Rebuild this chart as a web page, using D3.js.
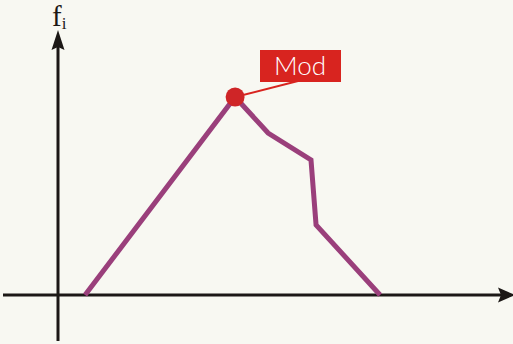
<!DOCTYPE html>
<html>
<head>
<meta charset="utf-8">
<script src="https://cdn.jsdelivr.net/npm/d3@7/dist/d3.min.js"></script>
<style>
  html, body { margin: 0; padding: 0; background: #f8f8f2; }
  svg { display: block; }
</style>
</head>
<body>
<script>
// Frequency polygon: class midpoints vs. frequencies, with the mode highlighted
const classMids   = [1.23, 8.05, 9.55, 11.5, 11.73, 14.64];
const frequencies = [0, 10, 8.18, 6.82, 3.54, 0];
const modeIndex   = 1;
const modeLabel   = "Mod";
const yAxisLabel  = "f";
const yAxisSub    = "i";

const W = 513, H = 344;
const svg = d3.select("body").append("svg").attr("width", W).attr("height", H);
svg.append("rect").attr("width", W).attr("height", H).attr("fill", "#f8f8f2");

const x = d3.scaleLinear().domain([0, 20]).range([58, 498]);
const y = d3.scaleLinear().domain([0, 10]).range([295, 97]);

const axisColor = "#1c1816";
const x0 = x(0), y0 = y(0);

// axes
svg.append("line").attr("x1", 3).attr("x2", 505).attr("y1", y0).attr("y2", y0)
  .attr("stroke", axisColor).attr("stroke-width", 3);
svg.append("line").attr("x1", x0).attr("x2", x0).attr("y1", 341).attr("y2", 40)
  .attr("stroke", axisColor).attr("stroke-width", 3);

// arrowheads
const yTip = 30;
svg.append("path")
  .attr("d", `M${x0},${yTip} L${x0 + 6.5},${yTip + 20} L${x0},${yTip + 17} L${x0 - 6.5},${yTip + 20} Z`)
  .attr("fill", axisColor);
const xTip = 515;
svg.append("path")
  .attr("d", `M${xTip},${y0} L${xTip - 17},${y0 + 7.5} L${xTip - 14},${y0} L${xTip - 17},${y0 - 7.5} Z`)
  .attr("fill", axisColor);

// y axis label f_i
const lab = svg.append("text").attr("x", 52).attr("y", 26)
  .attr("font-family", "'Liberation Serif', 'DejaVu Serif', serif")
  .attr("font-size", 29).attr("fill", axisColor);
lab.append("tspan").text(yAxisLabel);
lab.append("tspan").attr("font-size", 17).attr("dy", 3).text(yAxisSub);

// polygon line
const pts = classMids.map((d, i) => [x(d), y(frequencies[i])]);
svg.append("path")
  .attr("d", d3.line()(pts))
  .attr("fill", "none")
  .attr("stroke", "#9a3f7b")
  .attr("stroke-width", 5)
  .attr("stroke-linejoin", "miter");

// mode marker and callout
const mx = x(classMids[modeIndex]), my = y(frequencies[modeIndex]);
const boxX = 260, boxY = 50, boxW = 81, boxH = 32;
svg.append("line").attr("x1", mx).attr("y1", my).attr("x2", boxX + 38).attr("y2", boxY + boxH - 1)
  .attr("stroke", "#d8241f").attr("stroke-width", 2);
svg.append("rect").attr("x", boxX).attr("y", boxY).attr("width", boxW).attr("height", boxH)
  .attr("fill", "#d8241f");
svg.append("text").attr("x", boxX + boxW / 2 - 0.5).attr("y", boxY + 25)
  .attr("text-anchor", "middle")
  .attr("font-family", "'Lato', 'DejaVu Sans', sans-serif")
  .attr("font-weight", 300)
  .attr("font-size", 26).attr("fill", "#ffffff")
  .text(modeLabel);
svg.append("circle").attr("cx", mx).attr("cy", my).attr("r", 9.5)
  .attr("fill", "#cf2527");
</script>
</body>
</html>
